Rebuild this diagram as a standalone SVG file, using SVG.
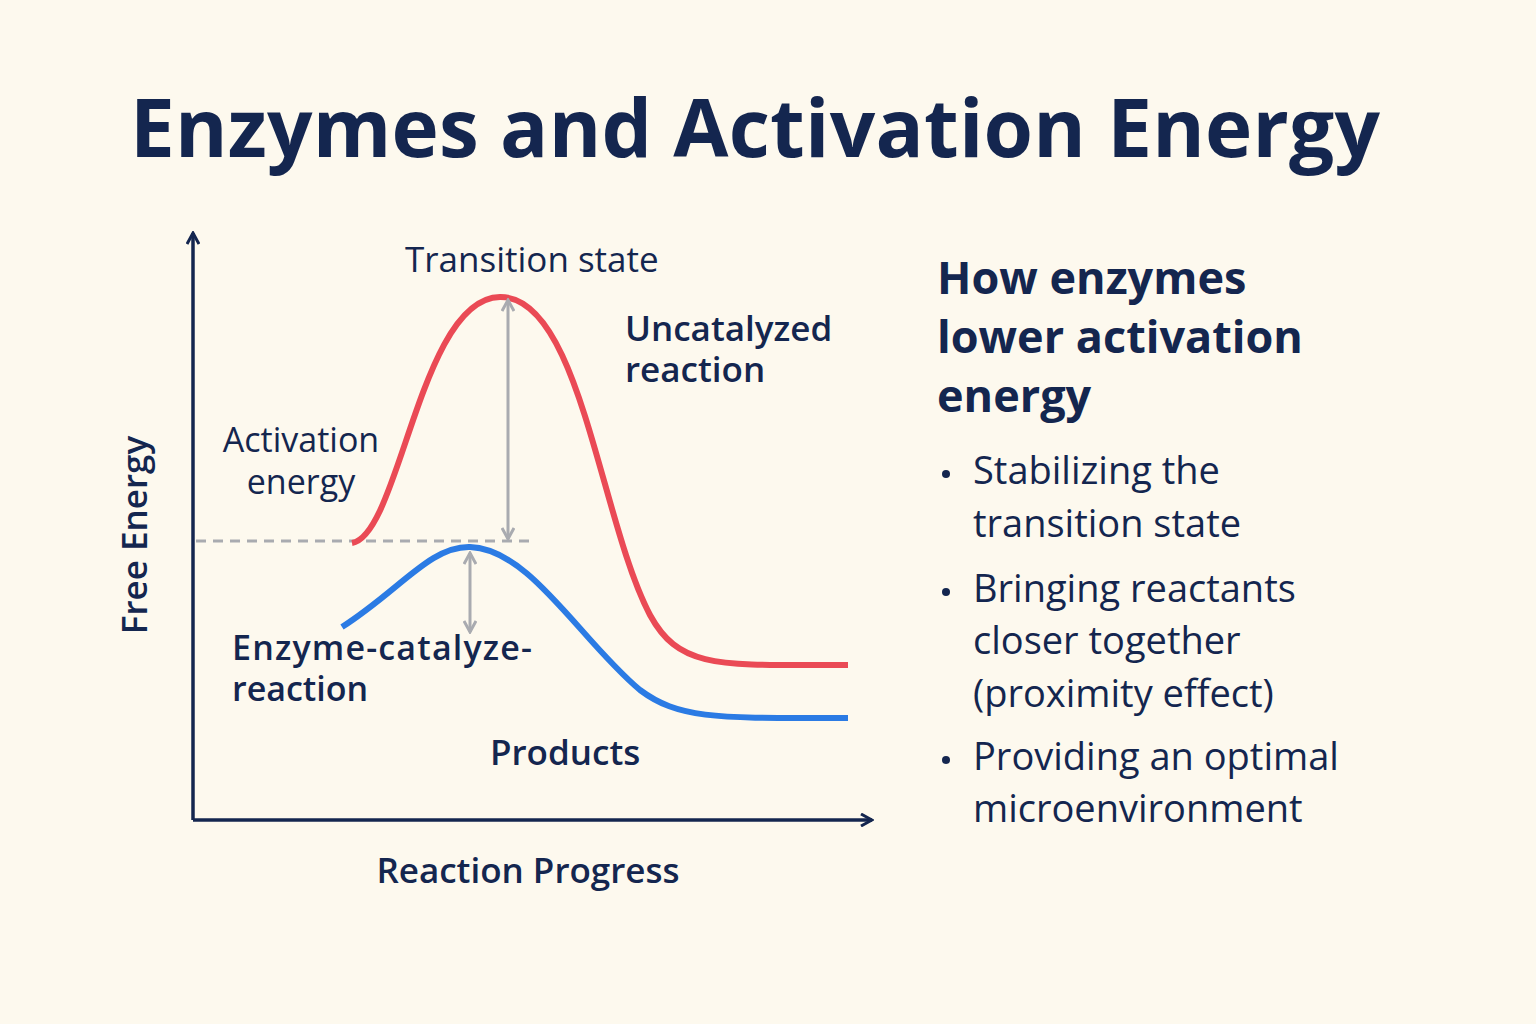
<svg xmlns="http://www.w3.org/2000/svg" width="1536" height="1024" viewBox="0 0 1536 1024">
<defs>
<style>
text{font-family:"Open Sans","Liberation Sans",sans-serif;fill:#14264f}
.b{font-weight:600}
.g{stroke:#a9abb0;stroke-width:3;fill:none}
</style>
<marker id="ax" markerWidth="14" markerHeight="14" refX="12" refY="7" orient="auto" markerUnits="userSpaceOnUse"><path d="M1,1 L12,7 L1,13" fill="none" stroke="#14264f" stroke-width="3"/></marker>
<marker id="ga" markerWidth="14" markerHeight="14" refX="12" refY="7" orient="auto-start-reverse" markerUnits="userSpaceOnUse"><path d="M1,1 L12,7 L1,13" fill="none" stroke="#a9abb0" stroke-width="3"/></marker>
</defs>
<rect width="1536" height="1024" fill="#fdf9ee"/>
<text x="755" y="157" font-size="80" font-weight="700" text-anchor="middle" textLength="1250" lengthAdjust="spacing">Enzymes and Activation Energy</text>
<g id="connectors">
<path d="M193,820 V233" stroke="#14264f" stroke-width="3.5" fill="none" marker-end="url(#ax)"/>
<path d="M193,820 H872" stroke="#14264f" stroke-width="3.5" fill="none" marker-end="url(#ax)"/>
<path d="M196,541 H530" class="g" stroke-dasharray="10 7"/>
<path d="M352,543 C400,535 420,298 500,297 C580,296 600,520 650,615 C680,670 720,665 848,665" stroke="#ea4a55" stroke-width="6" fill="none"/>
<path d="M342,627 C400,590 430,546 470,547 C530,549 580,640 640,690 C680,720 720,718 848,718" stroke="#2b7be4" stroke-width="6" fill="none"/>
<path d="M508,300 V539" class="g" marker-start="url(#ga)" marker-end="url(#ga)"/>
<path d="M470,553 V632" class="g" marker-start="url(#ga)" marker-end="url(#ga)"/>
</g>
<g id="labels" font-size="34">
<text x="405" y="272" font-size="35">Transition state</text>
<text x="625" y="341" class="b" font-size="35">Uncatalyzed</text>
<text x="625" y="382" class="b" font-size="35">reaction</text>
<text x="301" y="452" text-anchor="middle">Activation</text>
<text x="301" y="494" text-anchor="middle">energy</text>
<text x="232" y="660" class="b" textLength="300" lengthAdjust="spacing">Enzyme-catalyze-</text>
<text x="232" y="701" class="b">reaction</text>
<text x="490" y="765" class="b" font-size="35">Products</text>
<text transform="translate(147,535) rotate(-90)" text-anchor="middle" class="b" font-size="35">Free Energy</text>
<text x="528" y="883" text-anchor="middle" class="b" font-size="35">Reaction Progress</text>
</g>
<g id="panel">
<text x="937" y="294" font-size="45" font-weight="700">How enzymes</text>
<text x="937" y="353" font-size="45" font-weight="700">lower activation</text>
<text x="937" y="412" font-size="45" font-weight="700">energy</text>
<g font-size="38">
<circle cx="946" cy="474" r="4" fill="#14264f"/>
<text x="973" y="484">Stabilizing the</text>
<text x="973" y="537">transition state</text>
<circle cx="946" cy="592" r="4" fill="#14264f"/>
<text x="973" y="602">Bringing reactants</text>
<text x="973" y="654">closer together</text>
<text x="973" y="707">(proximity effect)</text>
<circle cx="946" cy="760" r="4" fill="#14264f"/>
<text x="973" y="770">Providing an optimal</text>
<text x="973" y="822">microenvironment</text>
</g>
</g>
</svg>
